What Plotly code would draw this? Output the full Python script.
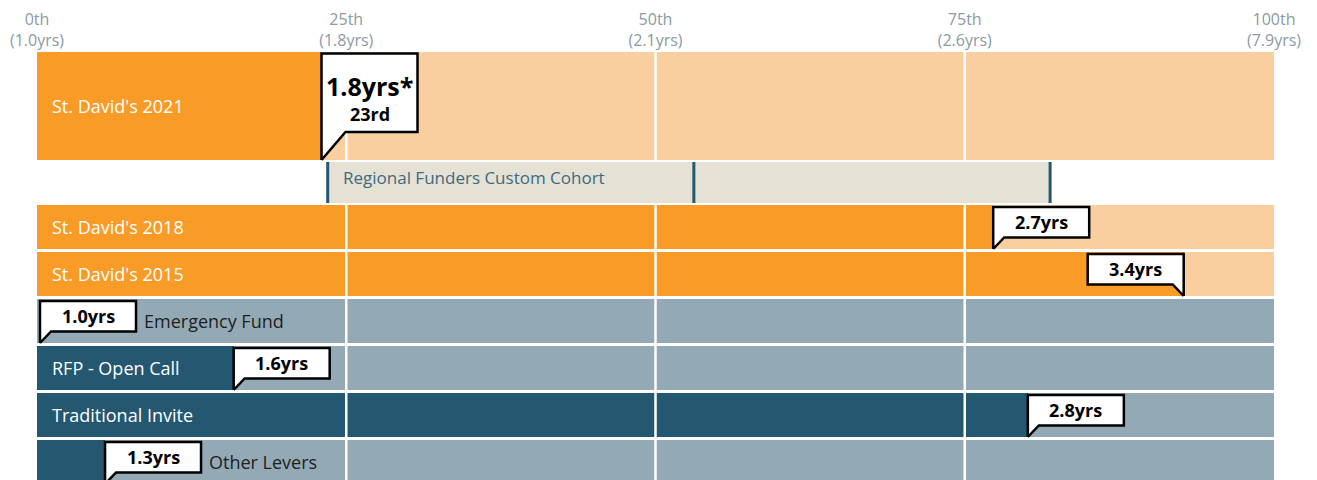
import plotly.graph_objects as go

# ---------------- data ----------------
categories = ["St. David's 2021", "St. David's 2018", "St. David's 2015",
              "Emergency Fund", "RFP - Open Call", "Traditional Invite", "Other Levers"]
percentile = [23.0, 77.3, 92.7, 0.0, 15.9, 80.1, 5.5]
years = [1.8, 2.7, 3.4, 1.0, 1.6, 2.8, 1.3]
groups = ["sd", "sd", "sd", "lever", "lever", "lever", "lever"]
note_mark = ["*", "", "", "", "", "", ""]
rank_label = "23rd"
tick_pct = [0, 25, 50, 75, 100]
tick_years = [1.0, 1.8, 2.1, 2.6, 7.9]
cohort_name = "Regional Funders Custom Cohort"
cohort_pct = [23.5, 53.1, 81.9]  # low, median, high

# ---------------- styles ----------------
FONT = "Open Sans"
DARK = {"sd": "#F89C27", "lever": "#245870"}
LIGHT = {"sd": "#F9CF9F", "lever": "#93A9B5"}
BEIGE = "#E5E1D5"
COHORT_LINE = "#245870"
COHORT_TXT = "#3E6A80"
TICK_TXT = "#8B9AA4"

PAGE_OFF = 8  # default body margin of the html page
W, H = 1317 - PAGE_OFF, 480 - PAGE_OFF
ML, MR, MT, MB = 37 - PAGE_OFF, 43, 52 - PAGE_OFF, 0
PLOT_W = W - ML - MR
PLOT_H = H - MT - MB
PX = PLOT_W / 100.0  # pixels per percentile unit

# row geometry (y in pixels from plot top)
row_top = [0]
row_h = [108]
cohort_top, cohort_h = 110, 41
for i in range(1, len(categories)):
    row_top.append(153 + 47 * (i - 1))
    row_h.append(44)
row_mid = [t + h / 2 for t, h in zip(row_top, row_h)]

fig = go.Figure()

# background bars
fig.add_trace(go.Bar(
    orientation="h", y=row_mid, x=[100] * len(categories), base=[0] * len(categories),
    width=row_h, marker=dict(color=[LIGHT[g] for g in groups], line=dict(width=0)),
    hoverinfo="skip", showlegend=False))
# value bars
fig.add_trace(go.Bar(
    orientation="h", y=row_mid, x=percentile, base=[0] * len(categories),
    width=row_h, marker=dict(color=[DARK[g] for g in groups], line=dict(width=0)),
    hoverinfo="skip", showlegend=False))
# cohort band
fig.add_trace(go.Bar(
    orientation="h", y=[cohort_top + cohort_h / 2], x=[cohort_pct[2] - cohort_pct[0]],
    base=[cohort_pct[0]], width=[cohort_h],
    marker=dict(color=BEIGE, line=dict(width=0)), hoverinfo="skip", showlegend=False))

# white gridlines over bars
gx, gy = [], []
for p in tick_pct[1:-1]:
    gx += [p, p, None, p, p, None]
    gy += [row_top[0], row_top[0] + row_h[0], None, row_top[1], PLOT_H + 20, None]
fig.add_trace(go.Scatter(x=gx, y=gy, mode="lines", line=dict(color="white", width=2.5),
                         hoverinfo="skip", showlegend=False))

# cohort markers
cx, cy = [], []
for p in cohort_pct:
    cx += [p, p, None]
    cy += [cohort_top, cohort_top + cohort_h, None]
fig.add_trace(go.Scatter(x=cx, y=cy, mode="lines", line=dict(color=COHORT_LINE, width=3),
                         hoverinfo="skip", showlegend=False))

annotations = []
annotations.append(dict(x=cohort_pct[0] + 13 / PX, y=cohort_top + 15, xref="x", yref="y",
                        text=cohort_name, showarrow=False, xanchor="left", yanchor="middle",
                        font=dict(family=FONT, size=17, color=COHORT_TXT)))

# callout bubbles
BOX_W = 96
for i, (v, yr) in enumerate(zip(percentile, years)):
    top, h = row_top[i], row_h[i]
    bottom = top + h
    if i == 0:
        btop, bbot, d = top + 1.5, top + 80, 24
    else:
        btop, bbot, d = top + 2, top + 32.5, 11
    x0 = max(v, 3 / PX)
    w = BOX_W / PX
    dd = d / PX
    if (v * PX + BOX_W) <= PLOT_W:
        xs = [x0, x0, x0 + w, x0 + w, x0 + dd, x0]
        cxm = x0 + w / 2
        right_edge = x0 + w
    else:
        xs = [x0, x0, x0 - w, x0 - w, x0 - dd, x0]
        cxm = x0 - w / 2
        right_edge = x0
    ys = [bottom, btop, btop, bbot, bbot, bottom]
    fig.add_trace(go.Scatter(x=xs, y=ys, mode="lines", fill="toself", fillcolor="white",
                             line=dict(color="black", width=2.5), hoverinfo="skip",
                             showlegend=False))
    label = f"{yr:.1f}yrs{note_mark[i]}"
    if i == 0:
        annotations.append(dict(x=cxm, y=btop + 32, xref="x", yref="y", text=f"<b>{label}</b>",
                                showarrow=False, xanchor="center", yanchor="middle",
                                font=dict(family=FONT, size=25, color="black")))
        annotations.append(dict(x=cxm, y=btop + 60, xref="x", yref="y", text=f"<b>{rank_label}</b>",
                                showarrow=False, xanchor="center", yanchor="middle",
                                font=dict(family=FONT, size=18, color="black")))
    else:
        annotations.append(dict(x=cxm, y=(btop + bbot) / 2, xref="x", yref="y",
                                text=f"<b>{label}</b>", showarrow=False, xanchor="center",
                                yanchor="middle", font=dict(family=FONT, size=18, color="black")))
    # row label
    if v * PX > 150:
        annotations.append(dict(x=13 / PX, y=row_mid[i], xref="x", yref="y", text=categories[i],
                                showarrow=False, xanchor="left", yanchor="middle",
                                font=dict(family=FONT, size=18, color="white")))
    else:
        annotations.append(dict(x=right_edge + 6 / PX, y=row_mid[i], xref="x", yref="y",
                                text=categories[i], showarrow=False, xanchor="left",
                                yanchor="middle", font=dict(family=FONT, size=18, color="#1E1E1E")))

fig.update_layout(
    width=W, height=H, margin=dict(l=ML, r=MR, t=MT, b=MB, autoexpand=False),
    paper_bgcolor="white", plot_bgcolor="white", barmode="overlay", bargap=0,
    font=dict(family=FONT),
    annotations=annotations,
    xaxis=dict(range=[0, 100], side="top", tickvals=tick_pct, automargin=False,
               ticktext=[f"{p}th<br>({y:.1f}yrs)" for p, y in zip(tick_pct, tick_years)],
               tickfont=dict(family=FONT, size=16, color=TICK_TXT), showgrid=False,
               zeroline=False, showline=False, ticks="", ticklabelstandoff=2, fixedrange=True),
    yaxis=dict(range=[PLOT_H, 0], visible=False, fixedrange=True, automargin=False),
)

fig.write_html("out.html")
